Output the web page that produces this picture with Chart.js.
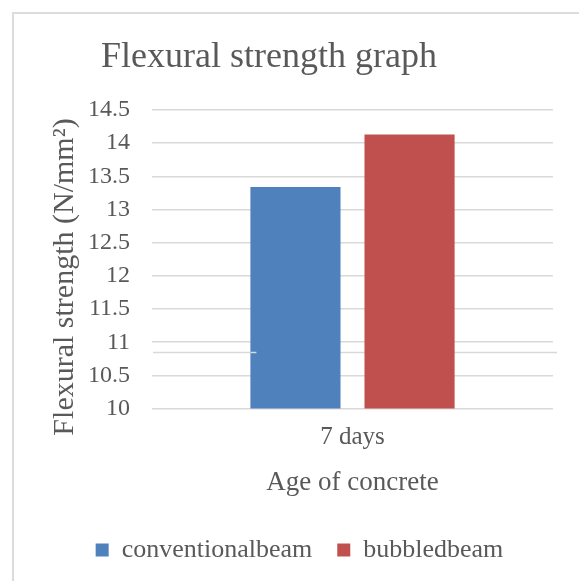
<!DOCTYPE html>
<html>
<head>
<meta charset="utf-8">
<script src="https://cdn.jsdelivr.net/npm/chart.js@4"></script>
<style>
  html, body { margin: 0; padding: 0; background: #fff; }
  #wrap { position: relative; width: 579px; height: 581px; }
  #frame { position: absolute; left: 12px; top: 12px; width: 600px; height: 600px;
           border-left: 2px solid #dcdcdc; border-top: 2px solid #dcdcdc; }
  canvas { position: absolute; left: 0; top: 0; }
</style>
</head>
<body>
<div id="wrap">
  <div id="frame"></div>
  <canvas id="c" width="579" height="581"></canvas>
</div>
<script>
const titleText = "Flexural strength graph";
const categories = ["7 days"];
const seriesNames = ["conventionalbeam", "bubbledbeam"];
const conventionalbeam = [13.34];
const bubbledbeam = [14.13];
const yTicks = [10, 10.5, 11, 11.5, 12, 12.5, 13, 13.5, 14, 14.5];
const xAxisTitle = "Age of concrete";
const yAxisTitle = "Flexural strength (N/mm\u00B2)";
const strayLineValue = [10.86];

const FONT = "'Liberation Serif', 'DejaVu Serif', serif";
const TXT = "#595959";

const textPlugin = {
  id: 'textPlugin',
  afterDraw(chart) {
    const ctx = chart.ctx;
    ctx.save();
    ctx.fillStyle = TXT;
    ctx.textAlign = 'center';
    ctx.textBaseline = 'alphabetic';
    ctx.font = "36px " + FONT;
    ctx.fillText(titleText, 269, 67);
    // y axis title, rotated
    ctx.translate(73, 277);
    ctx.rotate(-Math.PI / 2);
    ctx.font = "30px " + FONT;
    ctx.fillText(yAxisTitle, 0, 0);
    ctx.restore();
  }
};

const strayLine = {
  id: 'strayLine',
  beforeDatasetsDraw(chart) {
    const y = Math.round(chart.scales.y.getPixelForValue(strayLineValue[0])) + 0.5;
    const ctx = chart.ctx;
    ctx.save();
    ctx.strokeStyle = '#d9d9d9';
    ctx.lineWidth = 1.5;
    ctx.beginPath();
    ctx.moveTo(chart.chartArea.left + 1, y);
    ctx.lineTo(chart.chartArea.right + 4, y);
    ctx.stroke();
    ctx.restore();
  },
  afterDatasetsDraw(chart) {
    const bar = chart.getDatasetMeta(0).data[0];
    const y = Math.round(chart.scales.y.getPixelForValue(strayLineValue[0])) + 0.5;
    const left = bar.x - bar.width / 2;
    const ctx = chart.ctx;
    ctx.save();
    ctx.strokeStyle = '#d9d9d9';
    ctx.lineWidth = 1.5;
    ctx.beginPath();
    ctx.moveTo(left, y);
    ctx.lineTo(left + 6, y);
    ctx.stroke();
    ctx.restore();
  }
};

new Chart(document.getElementById('c'), {
  type: 'bar',
  data: {
    labels: categories,
    datasets: [
      { label: seriesNames[0], data: conventionalbeam, backgroundColor: '#4f81bd' },
      { label: seriesNames[1], data: bubbledbeam, backgroundColor: '#c0504d' }
    ]
  },
  plugins: [textPlugin, strayLine],
  options: {
    responsive: false,
    animation: false,
    categoryPercentage: 0.569,
    barPercentage: 0.79,
    layout: { padding: { left: 46, right: 26, top: 110, bottom: 8 } },
    plugins: {
      title: { display: false },
      tooltip: { enabled: false },
      legend: {
        position: 'bottom',
        labels: {
          font: { family: FONT, size: 26 },
          color: TXT,
          boxWidth: 13,
          boxHeight: 13,
          padding: 25
        }
      }
    },
    scales: {
      x: {
        grid: { display: false, drawTicks: false },
        border: { display: false },
        ticks: { font: { family: FONT, size: 25, lineHeight: 0.8 }, color: TXT, padding: 19 },
        title: { display: true, text: xAxisTitle, font: { family: FONT, size: 27 }, color: TXT, padding: { top: 0, bottom: 13 } }
      },
      y: {
        min: yTicks[0],
        max: yTicks[yTicks.length - 1],
        afterBuildTicks(axis) { axis.ticks = yTicks.map(v => ({ value: v })); },
        afterFit(axis) { axis.width = 106; },
        grid: { color: '#d9d9d9', lineWidth: 1.5, drawTicks: false },
        border: { display: false },
        ticks: { font: { family: FONT, size: 24 }, color: TXT, padding: 22,
                 callback: (v) => String(v) }
      }
    }
  }
});
</script>
</body>
</html>
